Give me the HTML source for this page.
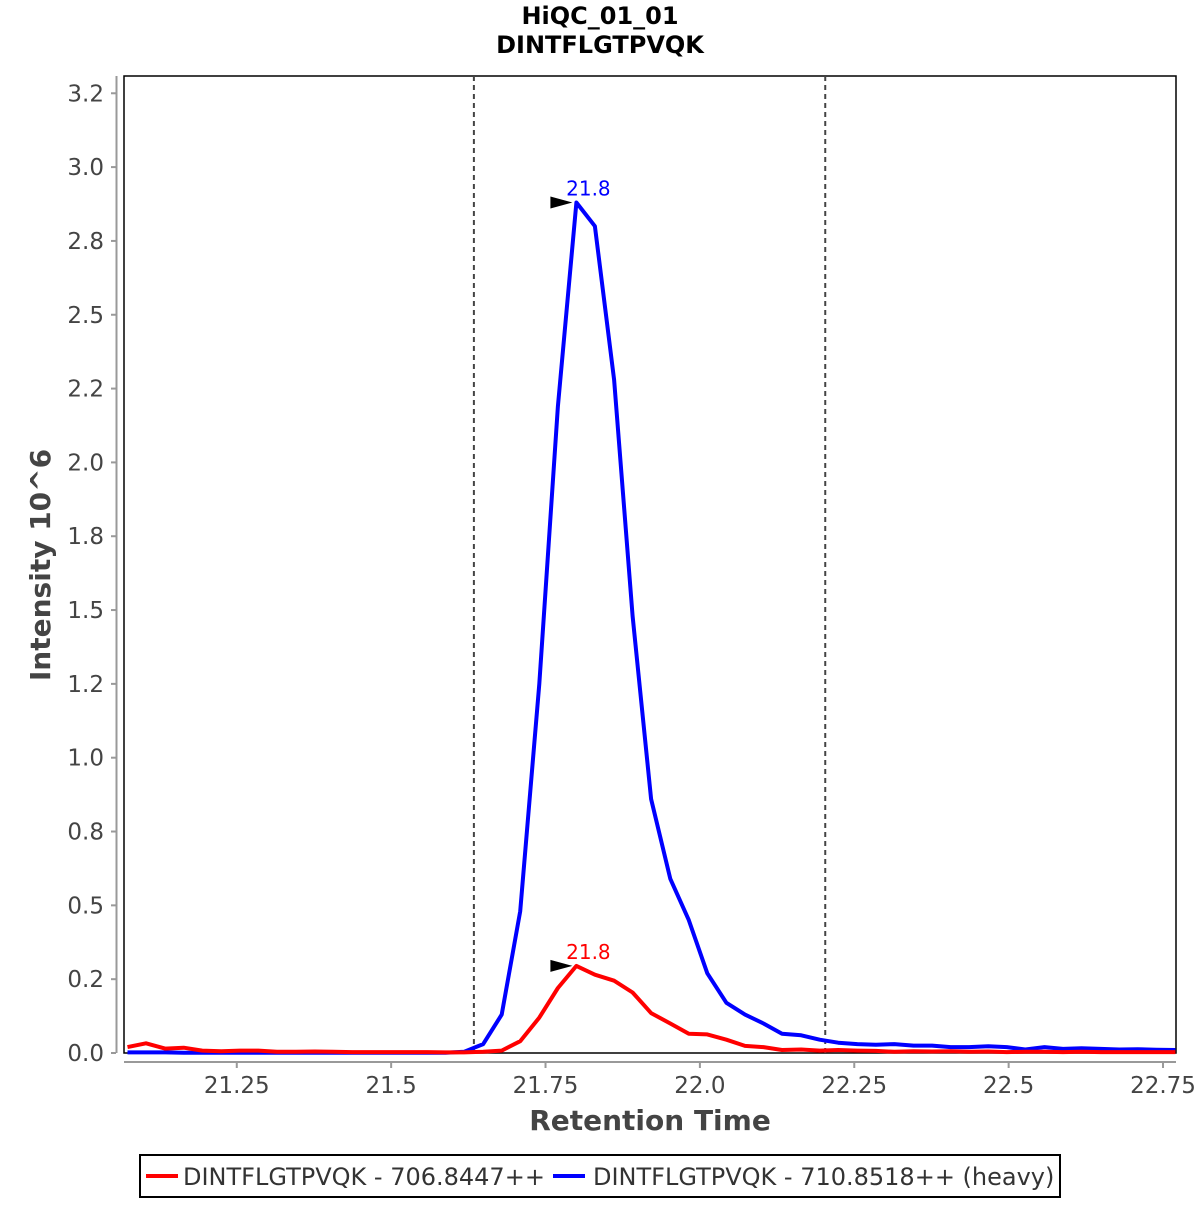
<!DOCTYPE html>
<html><head><meta charset="utf-8"><style>
body{margin:0;background:#fff;}
svg text{font-family:"DejaVu Sans","Liberation Sans",sans-serif;}
</style></head><body>
<svg id="chart" width="1200" height="1200" xmlns="http://www.w3.org/2000/svg">
<rect width="1200" height="1200" fill="#fff"/>
<text x="600" y="24" text-anchor="middle" font-size="24" font-weight="bold" fill="#000">HiQC_01_01</text>
<text x="600" y="53" text-anchor="middle" font-size="24" font-weight="bold" fill="#000">DINTFLGTPVQK</text>
<rect x="124" y="76" width="1052" height="977" fill="none" stroke="#000" stroke-width="1.5"/>
<line x1="116.5" y1="76" x2="116.5" y2="1053" stroke="#999" stroke-width="2"/>
<line x1="124" y1="1062" x2="1176" y2="1062" stroke="#999" stroke-width="2"/>
<g id="yticks"></g><g id="xticks"></g><g id="marks"></g>
<text transform="translate(50,565) rotate(-90)" text-anchor="middle" font-size="28" font-weight="bold" fill="#444">Intensity 10^6</text>
<text x="650" y="1130" text-anchor="middle" font-size="28" font-weight="bold" fill="#444">Retention Time</text>
<g>
<rect x="140" y="1155" width="920" height="42" fill="#fff" stroke="#000" stroke-width="2"/>
<line x1="146" y1="1176" x2="178" y2="1176" stroke="#f00" stroke-width="4"/>
<text x="183" y="1185" font-size="24" fill="#333">DINTFLGTPVQK - 706.8447++</text>
<line x1="553" y1="1176" x2="585" y2="1176" stroke="#00f" stroke-width="4"/>
<text x="593" y="1185" font-size="24" fill="#333">DINTFLGTPVQK - 710.8518++ (heavy)</text>
</g>
</svg>
<script>
const times=[21.073,21.103,21.134,21.164,21.194,21.225,21.255,21.285,21.315,21.346,21.376,21.406,21.437,21.467,21.497,21.528,21.558,21.588,21.618,21.649,21.679,21.709,21.740,21.770,21.800,21.830,21.861,21.891,21.921,21.952,21.982,22.012,22.043,22.073,22.103,22.133,22.164,22.194,22.224,22.255,22.285,22.315,22.346,22.376,22.406,22.436,22.467,22.497,22.527,22.558,22.588,22.618,22.649,22.679,22.709,22.739,22.770];
const lightValues=[0.02,0.033,0.015,0.018,0.008,0.006,0.008,0.008,0.004,0.004,0.005,0.004,0.003,0.003,0.003,0.003,0.003,0.002,0.002,0.004,0.008,0.04,0.12,0.22,0.295,0.265,0.245,0.205,0.135,0.10,0.065,0.063,0.045,0.024,0.02,0.01,0.012,0.008,0.01,0.008,0.007,0.004,0.006,0.005,0.006,0.004,0.005,0.003,0.004,0.004,0.003,0.004,0.003,0.003,0.003,0.003,0.003];
const heavyValues=[0.002,0.002,0.002,0.001,0.001,0.001,0.001,0.001,0.001,0.001,0.001,0.001,0.001,0.001,0.001,0.001,0.001,0.001,0.004,0.03,0.13,0.48,1.25,2.19,2.88,2.80,2.28,1.48,0.86,0.59,0.45,0.27,0.17,0.13,0.10,0.065,0.06,0.045,0.035,0.03,0.028,0.03,0.025,0.025,0.02,0.02,0.023,0.02,0.012,0.02,0.014,0.016,0.014,0.012,0.013,0.011,0.01];
const yTicks=[0,0.25,0.5,0.75,1.0,1.25,1.5,1.75,2.0,2.25,2.5,2.75,3.0,3.25];
const yTickLabels=["0.0","0.2","0.5","0.8","1.0","1.2","1.5","1.8","2.0","2.2","2.5","2.8","3.0","3.2"];
const xTicks=[21.25,21.5,21.75,22.0,22.25,22.5,22.75];
const xTickLabels=["21.25","21.5","21.75","22.0","22.25","22.5","22.75"];
const boundaries=[21.634,22.203];
const peaks=[{t:21.800,v:0.295,c:"#f00"},{t:21.800,v:2.88,c:"#00f"}];

const NS="http://www.w3.org/2000/svg";
const X=t=>125+(t-21.069)*617.5;
const Y=v=>1053-v*295.3;
function mk(tag,attrs,parent,text){const e=document.createElementNS(NS,tag);for(const k in attrs)e.setAttribute(k,attrs[k]);if(text!==undefined)e.textContent=text;parent.appendChild(e);return e;}
const yt=document.getElementById('yticks'),xt=document.getElementById('xticks'),mg=document.getElementById('marks');
yTicks.forEach((v,i)=>{
  const l=mk('line',{x1:111,x2:116,y1:Y(v),y2:Y(v),stroke:'#999','stroke-width':2},yt);
  
  
  const t=mk('text',{x:104,y:Y(v)+8,'text-anchor':'end','font-size':23,fill:'#444'},yt,yTickLabels[i]);
  
  
});
xTicks.forEach((v,i)=>{
  const l=mk('line',{x1:X(v),x2:X(v),y1:1062,y2:1068,stroke:'#999','stroke-width':2},xt);
  
  
  const t=mk('text',{x:X(v),y:1093,'text-anchor':'middle','font-size':23,fill:'#444'},xt,xTickLabels[i]);
  
  
});
boundaries.forEach(b=>{
  const l=mk('line',{x1:X(b),x2:X(b),y1:76,y2:1053,stroke:'#444','stroke-width':2,'stroke-dasharray':'5,4'},mg);
  
  
});
function series(vals,color,name){
  const d=vals.map((v,i)=>(i?'L':'M')+X(times[i]).toFixed(1)+','+Y(v).toFixed(1)).join(' ');
  const p=mk('path',{d:d,fill:'none',stroke:color,'stroke-width':4,'stroke-linejoin':'round'},mg);
  
  
}
series(heavyValues,'#00f','heavy-series-line');
series(lightValues,'#f00','light-series-line');
peaks.forEach(p=>{
  const x=X(p.t),y=Y(p.v);
  const a=mk('polygon',{points:`${x-4},${y} ${x-26},${y-6} ${x-26},${y+6}`,fill:'#000'},mg);
  
  
  const t=mk('text',{x:x+12,y:y-7,'text-anchor':'middle','font-size':20,fill:p.c},mg,p.t.toFixed(1));
  
  
});
</script>
</body></html>
